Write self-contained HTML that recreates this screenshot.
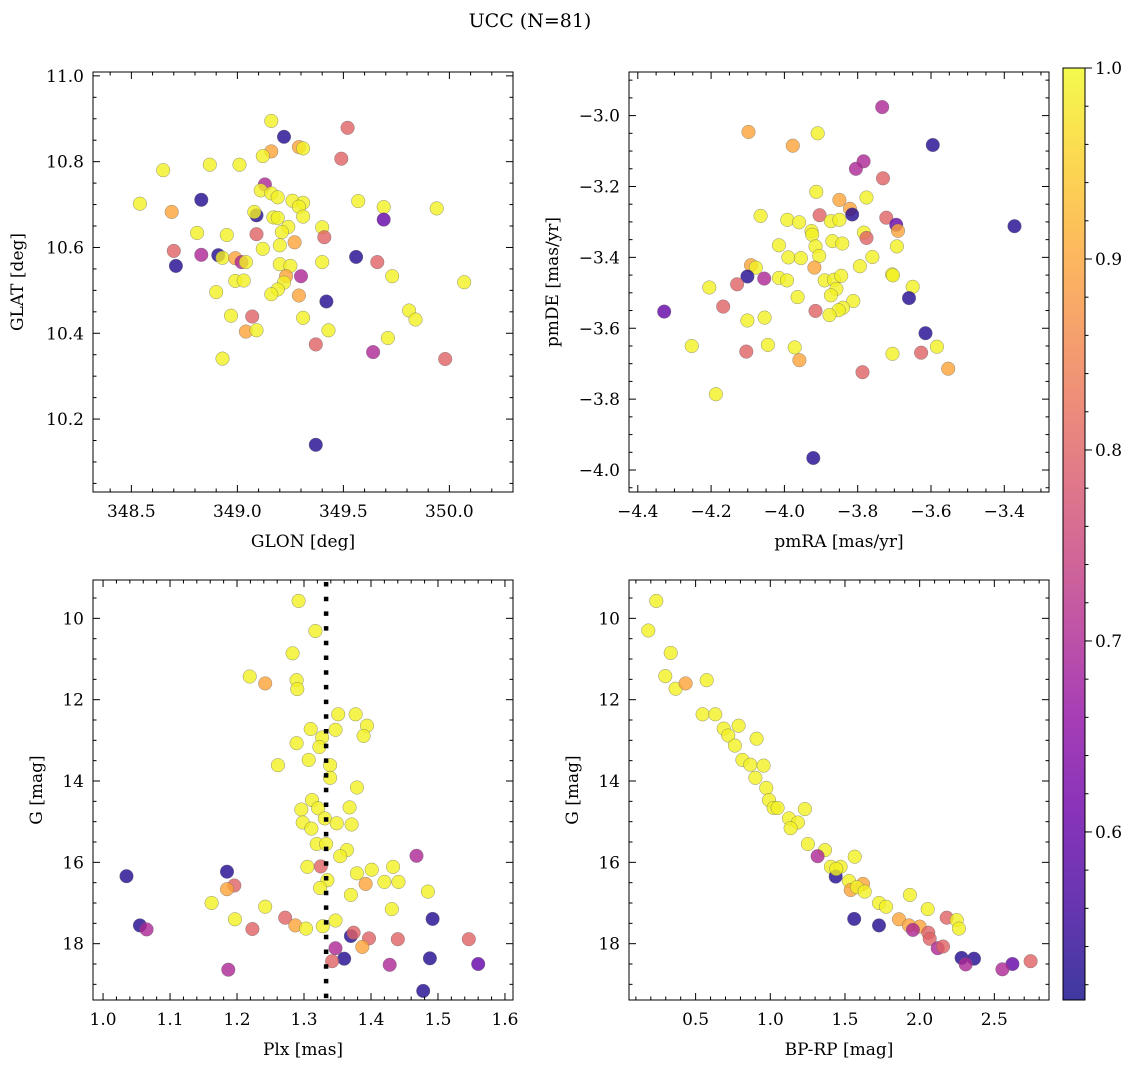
<!DOCTYPE html>
<html><head><meta charset="utf-8"><title>UCC (N=81)</title>
<style>
html,body{margin:0;padding:0;background:#fff;}
svg text{font-family:"DejaVu Serif","Liberation Serif",serif;fill:#000;}
</style></head>
<body>
<svg id="chart" xmlns="http://www.w3.org/2000/svg" width="1136" height="1068" viewBox="0 0 1136 1068">
<defs>
<linearGradient id="plasma" x1="0" y1="1" x2="0" y2="0">
<stop offset="0" stop-color="#0d0887"/><stop offset="0.1" stop-color="#41049d"/><stop offset="0.2" stop-color="#6a00a8"/><stop offset="0.3" stop-color="#8f0da4"/><stop offset="0.4" stop-color="#b12a90"/><stop offset="0.5" stop-color="#cc4778"/><stop offset="0.6" stop-color="#e16462"/><stop offset="0.7" stop-color="#f2844b"/><stop offset="0.8" stop-color="#fca636"/><stop offset="0.9" stop-color="#fcce25"/><stop offset="1" stop-color="#f0f921"/>
</linearGradient>
</defs>
<text x="530" y="27" font-size="19" text-anchor="middle">UCC (N=81)</text>
</svg>
<script>
// Panel 1: GLON vs GLAT
const glon=[349.16,349.22,349.52,349.16,349.12,349.29,349.31,349.49,348.65,348.87,349.01,348.54,348.83,348.69,349.13,349.11,349.16,349.19,349.26,349.31,349.29,349.31,349.57,349.69,349.94,349.69,349.09,349.08,349.17,349.19,349.24,349.21,349.40,349.41,348.81,348.95,349.09,349.27,349.20,349.12,348.70,348.83,348.91,348.93,348.99,349.02,349.04,348.71,349.20,349.25,349.40,349.56,349.66,349.30,349.23,349.73,350.07,348.99,349.03,349.22,349.19,349.16,349.29,348.90,349.42,348.97,349.07,349.31,349.81,349.84,349.04,349.09,349.43,349.71,349.37,349.64,349.98,348.93,349.37];
const glat=[10.895,10.858,10.879,10.824,10.813,10.834,10.831,10.807,10.780,10.793,10.793,10.702,10.711,10.683,10.747,10.733,10.726,10.717,10.709,10.704,10.695,10.672,10.708,10.694,10.691,10.665,10.675,10.683,10.670,10.669,10.648,10.636,10.647,10.624,10.634,10.629,10.631,10.612,10.605,10.597,10.592,10.583,10.582,10.576,10.575,10.566,10.566,10.557,10.561,10.557,10.566,10.578,10.566,10.533,10.533,10.533,10.519,10.522,10.523,10.518,10.502,10.491,10.488,10.496,10.474,10.441,10.439,10.436,10.453,10.432,10.404,10.407,10.407,10.389,10.374,10.356,10.340,10.341,10.140];
const prob1=[.99,.53,.8,.9,.99,.9,.99,.8,.99,.99,.99,.99,.53,.9,.7,.99,.99,.99,.99,.99,.99,.99,.99,.99,.99,.6,.53,.99,.99,.99,.99,.99,.99,.8,.99,.99,.8,.9,.99,.99,.8,.7,.53,.99,.9,.7,.99,.53,.99,.99,.99,.53,.8,.7,.9,.99,.99,.99,.99,.99,.99,.99,.9,.99,.53,.99,.8,.99,.99,.99,.9,.99,.99,.99,.8,.7,.8,.99,.53];
// Panel 2: pmRA vs pmDE
const pmra=[-3.733,-4.098,-3.909,-3.977,-3.595,-3.784,-3.805,-3.731,-3.913,-3.850,-3.776,-3.821,-3.815,-3.904,-4.065,-3.992,-3.960,-3.873,-3.850,-3.722,-3.695,-3.690,-3.783,-3.776,-3.372,-3.926,-3.924,-4.015,-3.915,-3.869,-3.842,-3.693,-3.989,-3.955,-3.905,-3.760,-3.918,-4.091,-4.078,-3.794,-4.101,-4.055,-4.015,-3.993,-3.890,-3.865,-3.845,-3.706,-3.704,-3.858,-3.650,-4.205,-4.129,-3.873,-3.964,-3.660,-3.812,-3.840,-3.852,-3.877,-3.915,-4.328,-4.167,-4.101,-4.054,-3.615,-4.253,-4.045,-3.972,-4.104,-3.959,-3.705,-3.627,-3.584,-3.553,-3.787,-4.187,-3.921];
const pmde=[-2.976,-3.046,-3.050,-3.085,-3.083,-3.129,-3.150,-3.177,-3.215,-3.238,-3.231,-3.263,-3.279,-3.281,-3.283,-3.294,-3.301,-3.298,-3.294,-3.288,-3.308,-3.325,-3.330,-3.345,-3.312,-3.326,-3.336,-3.366,-3.369,-3.354,-3.361,-3.369,-3.400,-3.402,-3.396,-3.399,-3.429,-3.422,-3.429,-3.425,-3.454,-3.460,-3.458,-3.465,-3.465,-3.463,-3.452,-3.448,-3.451,-3.489,-3.483,-3.485,-3.476,-3.507,-3.512,-3.515,-3.523,-3.542,-3.549,-3.563,-3.551,-3.553,-3.539,-3.578,-3.570,-3.614,-3.650,-3.647,-3.654,-3.666,-3.690,-3.672,-3.669,-3.652,-3.714,-3.724,-3.786,-3.966];
const prob2=[.7,.9,.99,.9,.53,.7,.7,.8,.99,.9,.99,.9,.53,.8,.99,.99,.99,.99,.99,.8,.6,.9,.99,.8,.53,.99,.99,.99,.99,.99,.99,.99,.99,.99,.99,.99,.9,.9,.99,.99,.53,.7,.99,.99,.99,.99,.99,.99,.99,.99,.99,.99,.8,.99,.99,.53,.99,.99,.99,.99,.8,.6,.8,.99,.99,.53,.99,.99,.99,.8,.9,.99,.8,.99,.9,.8,.99,.53];
// Panel 3: Plx vs G
const plx=[1.292,1.317,1.283,1.219,1.242,1.289,1.290,1.351,1.377,1.394,1.389,1.310,1.347,1.327,1.323,1.289,1.307,1.261,1.339,1.339,1.379,1.312,1.296,1.321,1.368,1.331,1.349,1.298,1.311,1.371,1.319,1.333,1.364,1.354,1.468,1.305,1.325,1.433,1.401,1.379,1.035,1.185,1.196,1.185,1.335,1.324,1.392,1.420,1.441,1.485,1.370,1.162,1.242,1.431,1.492,1.197,1.272,1.347,1.287,1.303,1.328,1.223,1.055,1.065,1.370,1.374,1.397,1.440,1.546,1.387,1.347,1.360,1.342,1.488,1.428,1.560,1.187,1.478];
const gmag3=[9.57,10.31,10.86,11.43,11.60,11.52,11.74,12.36,12.36,12.64,12.89,12.72,12.74,12.93,13.16,13.07,13.48,13.61,13.61,13.92,14.16,14.47,14.70,14.67,14.65,14.92,15.04,15.02,15.17,15.07,15.55,15.55,15.70,15.85,15.84,16.11,16.10,16.11,16.18,16.27,16.34,16.23,16.57,16.66,16.44,16.63,16.53,16.48,16.48,16.72,16.80,17.00,17.09,17.15,17.39,17.40,17.36,17.43,17.55,17.63,17.57,17.64,17.55,17.65,17.81,17.73,17.87,17.89,17.89,18.08,18.11,18.37,18.43,18.36,18.52,18.50,18.64,19.16];
const prob3=[.99,.99,.99,.99,.9,.99,.99,.99,.99,.99,.99,.99,.99,.99,.99,.99,.99,.99,.99,.99,.99,.99,.99,.99,.99,.99,.99,.99,.99,.99,.99,.99,.99,.99,.7,.99,.8,.99,.99,.99,.53,.53,.8,.9,.99,.99,.9,.99,.99,.99,.99,.99,.99,.99,.53,.99,.8,.99,.9,.99,.99,.8,.53,.7,.53,.8,.8,.8,.8,.9,.7,.53,.8,.53,.7,.6,.7,.53];
const plxRef=[1.333];
// Panel 4: BP-RP vs G
const bprp=[0.237,0.183,0.333,0.297,0.366,0.433,0.574,0.547,0.632,0.688,0.788,0.719,0.908,0.763,0.813,0.866,0.955,0.900,0.973,0.991,1.022,1.049,1.232,1.125,1.185,1.136,1.252,1.366,1.317,1.565,1.406,1.471,1.438,1.442,1.527,1.621,1.538,1.580,1.632,1.935,1.728,1.775,2.054,1.562,1.728,1.862,1.929,2.000,1.955,2.058,2.067,2.181,2.248,2.263,2.121,2.156,2.281,2.364,2.308,2.621,2.554,2.743];
const gmag4=[9.57,10.30,10.85,11.42,11.73,11.60,11.52,12.36,12.36,12.71,12.64,12.88,12.96,13.13,13.48,13.60,13.62,13.92,14.17,14.47,14.66,14.66,14.69,14.92,15.02,15.16,15.55,15.70,15.85,15.86,16.11,16.11,16.35,16.16,16.46,16.53,16.68,16.61,16.72,16.80,17.00,17.09,17.15,17.39,17.55,17.40,17.55,17.58,17.66,17.73,17.88,17.36,17.42,17.63,18.11,18.07,18.35,18.37,18.51,18.50,18.63,18.43];
const prob4=[.99,.99,.99,.99,.99,.9,.99,.99,.99,.99,.99,.99,.99,.99,.99,.99,.99,.99,.99,.99,.99,.99,.99,.99,.99,.99,.99,.99,.7,.99,.99,.99,.53,.99,.99,.9,.9,.99,.99,.99,.99,.99,.99,.53,.53,.9,.9,.9,.7,.8,.8,.8,.99,.99,.7,.8,.53,.53,.7,.6,.7,.8];
// Tick labels
const ticks1x=[348.5,349.0,349.5,350.0];
const ticks1y=[10.2,10.4,10.6,10.8,11.0];
const ticks2x=[-4.4,-4.2,-4.0,-3.8,-3.6,-3.4];
const ticks2y=[-4.0,-3.8,-3.6,-3.4,-3.2,-3.0];
const ticks3x=[1.0,1.1,1.2,1.3,1.4,1.5,1.6];
const ticksGy=[10,12,14,16,18];
const ticks4x=[0.5,1.0,1.5,2.0,2.5];
const ticksCb=[0.6,0.7,0.8,0.9,1.0];

const NS='http://www.w3.org/2000/svg';
const svg=document.getElementById('chart');
function mk(tag,attrs,parent){const e=document.createElementNS(NS,tag);for(const k in attrs)e.setAttribute(k,attrs[k]);(parent||svg).appendChild(e);return e;}
const PL=[[13,8,135],[65,4,157],[106,0,168],[143,13,164],[177,42,144],[204,71,120],[225,100,98],[242,132,75],[252,166,54],[252,206,37],[240,249,33]];
const CMIN=0.512,CMAX=1.0;
function cmap(v){let t=(v-CMIN)/(CMAX-CMIN);t=Math.max(0,Math.min(1,t))*10;const i=Math.min(9,Math.floor(t)),f=t-i;const a=PL[i],b=PL[i+1];return 'rgb('+[0,1,2].map(k=>Math.round(a[k]+(b[k]-a[k])*f)).join(',')+')';}
function fmt(v,d){return (v<0?'\u2212':'')+Math.abs(v).toFixed(d);}

function panel(cfg){
  const g=mk('g',{});
  
  
  const X=v=>cfg.x0+(v-cfg.xmin)/(cfg.xmax-cfg.xmin)*420;
  const Y=v=>cfg.y0+(cfg.ytop-v)/(cfg.ytop-cfg.ybot)*420;
  const n=Math.min(cfg.xs.length,cfg.ys.length,cfg.cs.length);
  for(let i=0;i<n;i++){
    const c=mk('circle',{cx:X(cfg.xs[i]).toFixed(1),cy:Y(cfg.ys[i]).toFixed(1),r:6.8,fill:cmap(cfg.cs[i]),'fill-opacity':0.8,stroke:'#666','stroke-width':0.5,'stroke-opacity':0.7},g);
    
    
  }
  if(cfg.vline){
    const l=mk('line',{x1:X(cfg.vline[0]),x2:X(cfg.vline[0]),y1:cfg.y0+2,y2:cfg.y0+420,stroke:'#000','stroke-width':4.5,'stroke-dasharray':'4.5 10.2'},g);
    
    
  }
  const fr=mk('rect',{x:cfg.x0,y:cfg.y0,width:420,height:420,fill:'none',stroke:'#000','stroke-width':1},g);
  
  
  const xt=mk('g',{},g);
  
  
  const eps=1e-9;
  const ms=cfg.xminor;
  for(let v=Math.ceil(cfg.xmin/ms)*ms;v<=cfg.xmax+eps;v+=ms){
    const px=X(v);const isMaj=cfg.xticks.some(t=>Math.abs(t-v)<ms/10);
    const L=isMaj?7:3.5;
    mk('line',{x1:px,x2:px,y1:cfg.y0+420,y2:cfg.y0+420-L,stroke:'#000','stroke-width':1},xt);
    mk('line',{x1:px,x2:px,y1:cfg.y0,y2:cfg.y0+L,stroke:'#000','stroke-width':1},xt);
  }
  cfg.xticks.forEach(v=>{const t=mk('text',{x:X(v),y:cfg.y0+445,'font-size':17,'text-anchor':'middle'},xt);t.textContent=fmt(v,cfg.xdec);
    
    });
  const yt=mk('g',{},g);
  
  
  const ymn=Math.min(cfg.ytop,cfg.ybot),ymx=Math.max(cfg.ytop,cfg.ybot),ys=cfg.yminor;
  for(let v=Math.ceil(ymn/ys)*ys;v<=ymx+eps;v+=ys){
    const py=Y(v);const isMaj=cfg.yticks.some(t=>Math.abs(t-v)<ys/10);
    const L=isMaj?7:3.5;
    mk('line',{x1:cfg.x0,x2:cfg.x0+L,y1:py,y2:py,stroke:'#000','stroke-width':1},yt);
    mk('line',{x1:cfg.x0+420,x2:cfg.x0+420-L,y1:py,y2:py,stroke:'#000','stroke-width':1},yt);
  }
  cfg.yticks.forEach(v=>{const t=mk('text',{x:cfg.x0-9,y:Y(v)+6,'font-size':17,'text-anchor':'end'},yt);t.textContent=fmt(v,cfg.ydec);
    
    });
  const xl=mk('text',{x:cfg.x0+210,y:cfg.y0+475,'font-size':17,'text-anchor':'middle'},g);xl.textContent=cfg.xlabel;
  
  
  const yl=mk('text',{x:cfg.ylx,y:cfg.y0+210,'font-size':17,'text-anchor':'middle',transform:'rotate(-90 '+cfg.ylx+' '+(cfg.y0+210)+')'},g);yl.textContent=cfg.ylabel;
  
  
}

panel({name:'panel-glon-glat',x0:93,y0:72,xmin:348.319,xmax:350.300,ytop:11.009,ybot:10.030,xs:glon,ys:glat,cs:prob1,xticks:ticks1x,xminor:0.1,xdec:1,yticks:ticks1y,yminor:0.05,ydec:1,xlabel:'GLON [deg]',ylabel:'GLAT [deg]',ylx:23});
panel({name:'panel-pmra-pmde',x0:629,y0:72,xmin:-4.424,xmax:-3.278,ytop:-2.877,ybot:-4.062,xs:pmra,ys:pmde,cs:prob2,xticks:ticks2x,xminor:0.05,xdec:1,yticks:ticks2y,yminor:0.05,ydec:1,xlabel:'pmRA [mas/yr]',ylabel:'pmDE [mas/yr]',ylx:558});
panel({name:'panel-plx-g',x0:93,y0:580,xmin:0.985,xmax:1.612,ytop:9.057,ybot:19.385,xs:plx,ys:gmag3,cs:prob3,vline:plxRef,xticks:ticks3x,xminor:0.02,xdec:1,yticks:ticksGy,yminor:0.5,ydec:0,xlabel:'Plx [mas]',ylabel:'G [mag]',ylx:42});
panel({name:'panel-bprp-g',x0:629,y0:580,xmin:0.054,xmax:2.866,ytop:9.057,ybot:19.385,xs:bprp,ys:gmag4,cs:prob4,xticks:ticks4x,xminor:0.1,xdec:1,yticks:ticksGy,yminor:0.5,ydec:0,xlabel:'BP-RP [mag]',ylabel:'G [mag]',ylx:578});

const cb=mk('g',{});


const CBX=1063,CBY0=68,CBY1=1000;
const CY=v=>CBY1-(v-CMIN)/(CMAX-CMIN)*(CBY1-CBY0);
mk('rect',{x:CBX,y:CBY0,width:22,height:CBY1-CBY0,fill:'url(#plasma)','fill-opacity':0.8},cb);
mk('rect',{x:CBX,y:CBY0,width:22,height:CBY1-CBY0,fill:'none',stroke:'#000','stroke-width':1},cb);
for(let v=0.52;v<=1.0001;v+=0.02){mk('line',{x1:CBX+22,x2:CBX+25.5,y1:CY(v),y2:CY(v),stroke:'#000','stroke-width':1},cb);}
ticksCb.forEach(v=>{
  mk('line',{x1:CBX+22,x2:CBX+29,y1:CY(v),y2:CY(v),stroke:'#000','stroke-width':1},cb);
  const t=mk('text',{x:CBX+32,y:CY(v)+6,'font-size':17},cb);t.textContent=v.toFixed(1);
  
  
});
</script>
</body></html>
